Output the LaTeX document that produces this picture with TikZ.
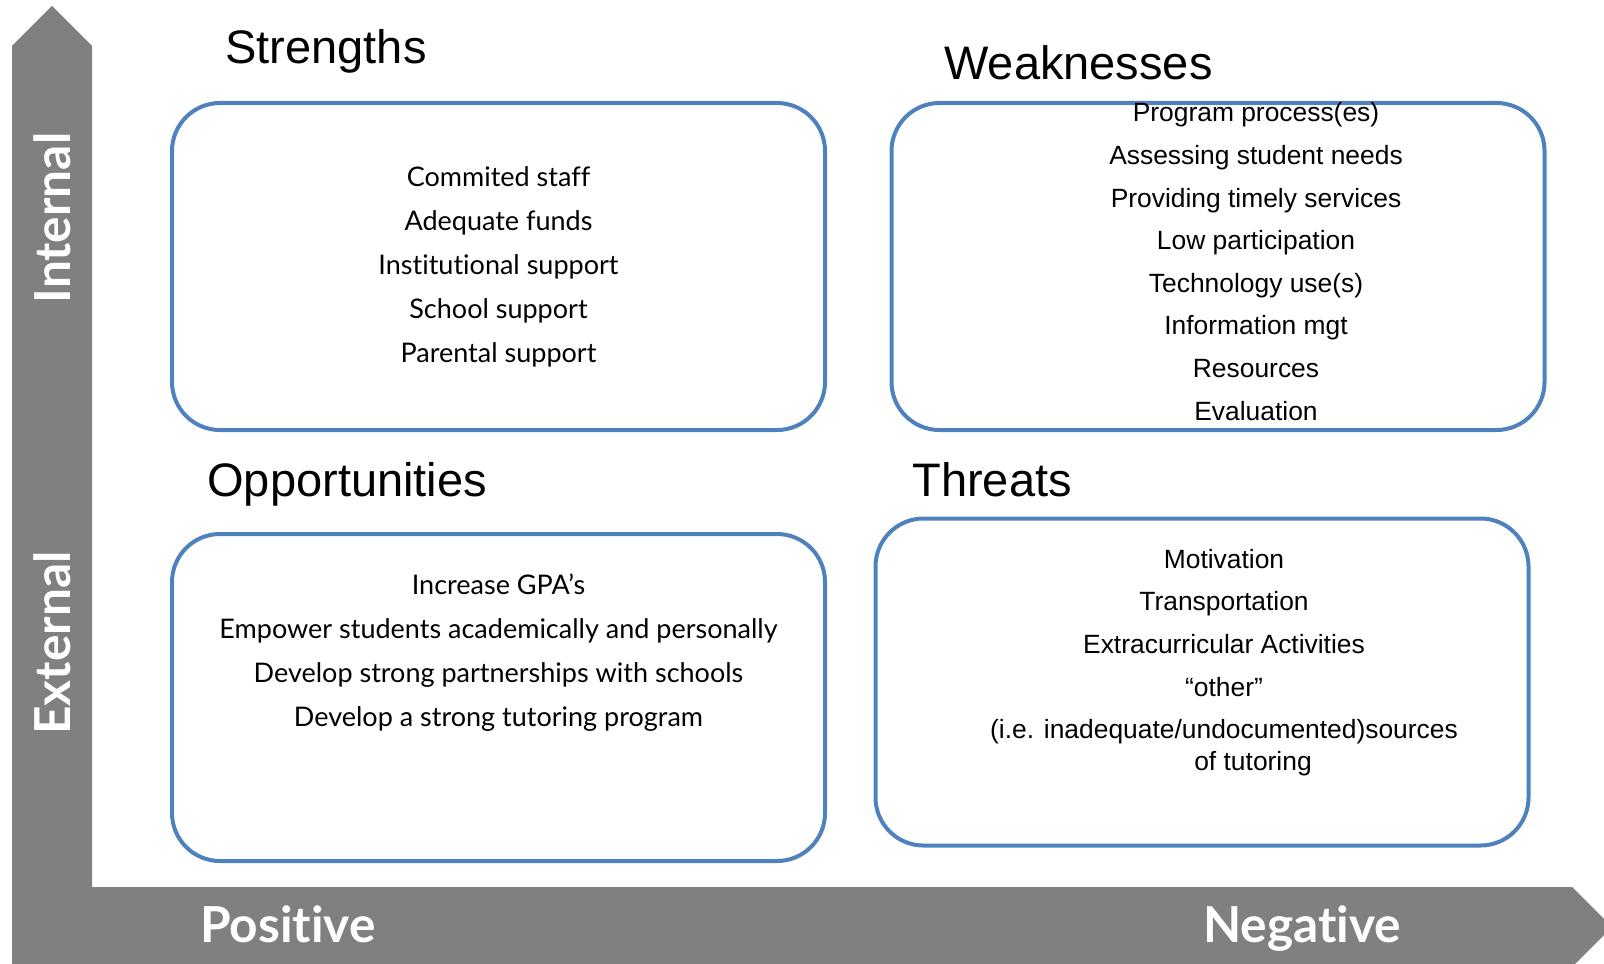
\documentclass[tikz,border=0pt]{standalone}
\usepackage{fontspec}
\setmainfont{Liberation Sans}
\newfontfamily\gillfont[Ligatures=NoCommon]{Lato}
\usetikzlibrary{positioning}

\definecolor{boxblue}{RGB}{79,129,189}
\definecolor{axisgray}{RGB}{128,128,128}

\tikzset{
  swotbox/.style={rectangle, draw=boxblue, line width=2pt, rounded corners=24pt, minimum width=326.5pt, minimum height=163.5pt},
  heading/.style={anchor=base west, inner sep=0pt, font=\fontsize{23.5}{28}\selectfont},
  arialtext/.style={align=center, inner sep=0pt, font=\fontsize{13.2}{21.3}\selectfont},
  gilltext/.style={align=center, inner sep=0pt, font=\gillfont\fontsize{13.5}{22}\selectfont},
  axislabel/.style={inner sep=0pt, text=white, font=\gillfont\bfseries\fontsize{24.8}{28}\selectfont}
}

\begin{document}
\begin{tikzpicture}[x=0.5pt, y=-0.5pt]

\useasboundingbox (0,0) rectangle (1604,963);
\clip (0,0) rectangle (1604,963);

% axes
\fill [axisgray] (12,967) -- (12,46) -- (52,6) -- (92,46) -- (92,887) -- (1572,887) -- (1612,927) -- (1572,967) -- cycle;

\draw (52,218) node (int) [axislabel, rotate=90] {Internal};
\draw (52,643) node (ext) [axislabel, rotate=90] {External};
\draw (288,942) node (pos) [axislabel, anchor=base] {Positive};
\draw (1302,942) node (neg) [axislabel, anchor=base] {Negative};

% strengths
\draw (498.5,266.5) node (str) [swotbox] {};
\draw (225,64) node (strhead) [heading] {Strengths};
\draw (str) node (strtxt) [gilltext] {Commited staff\\Adequate funds\\Institutional support\\School support\\Parental support};

% weaknesses
\draw (1218,266.5) node (weak) [swotbox] {};
\draw (944,80) node (weakhead) [heading] {Weaknesses};
\draw (1256,261.5) node (weaktxt) [arialtext] {Program process(es)\\Assessing student needs\\Providing timely services\\Low participation\\Technology use(s)\\Information mgt\\Resources\\Evaluation};

% opportunities
\draw (498.5,697.5) node (opp) [swotbox] {};
\draw (207,496) node (opphead) [heading] {Opportunities};
\draw (498.5,653) node (opptxt) [gilltext] {Increase GPA’s\\Empower students academically and personally\\Develop strong partnerships with schools\\Develop a strong tutoring program};

% threats
\draw (1202,682) node (thr) [swotbox] {};
\draw (912,496) node (thrhead) [heading] {Threats};
\draw (1224,662.5) node (thrtxt) [arialtext] {Motivation\\Transportation\\Extracurricular Activities\\“other”\\(i.e. inadequate/undocumented)sources\\[-5.4pt]\hspace*{29pt}of tutoring};

\end{tikzpicture}
\end{document}
